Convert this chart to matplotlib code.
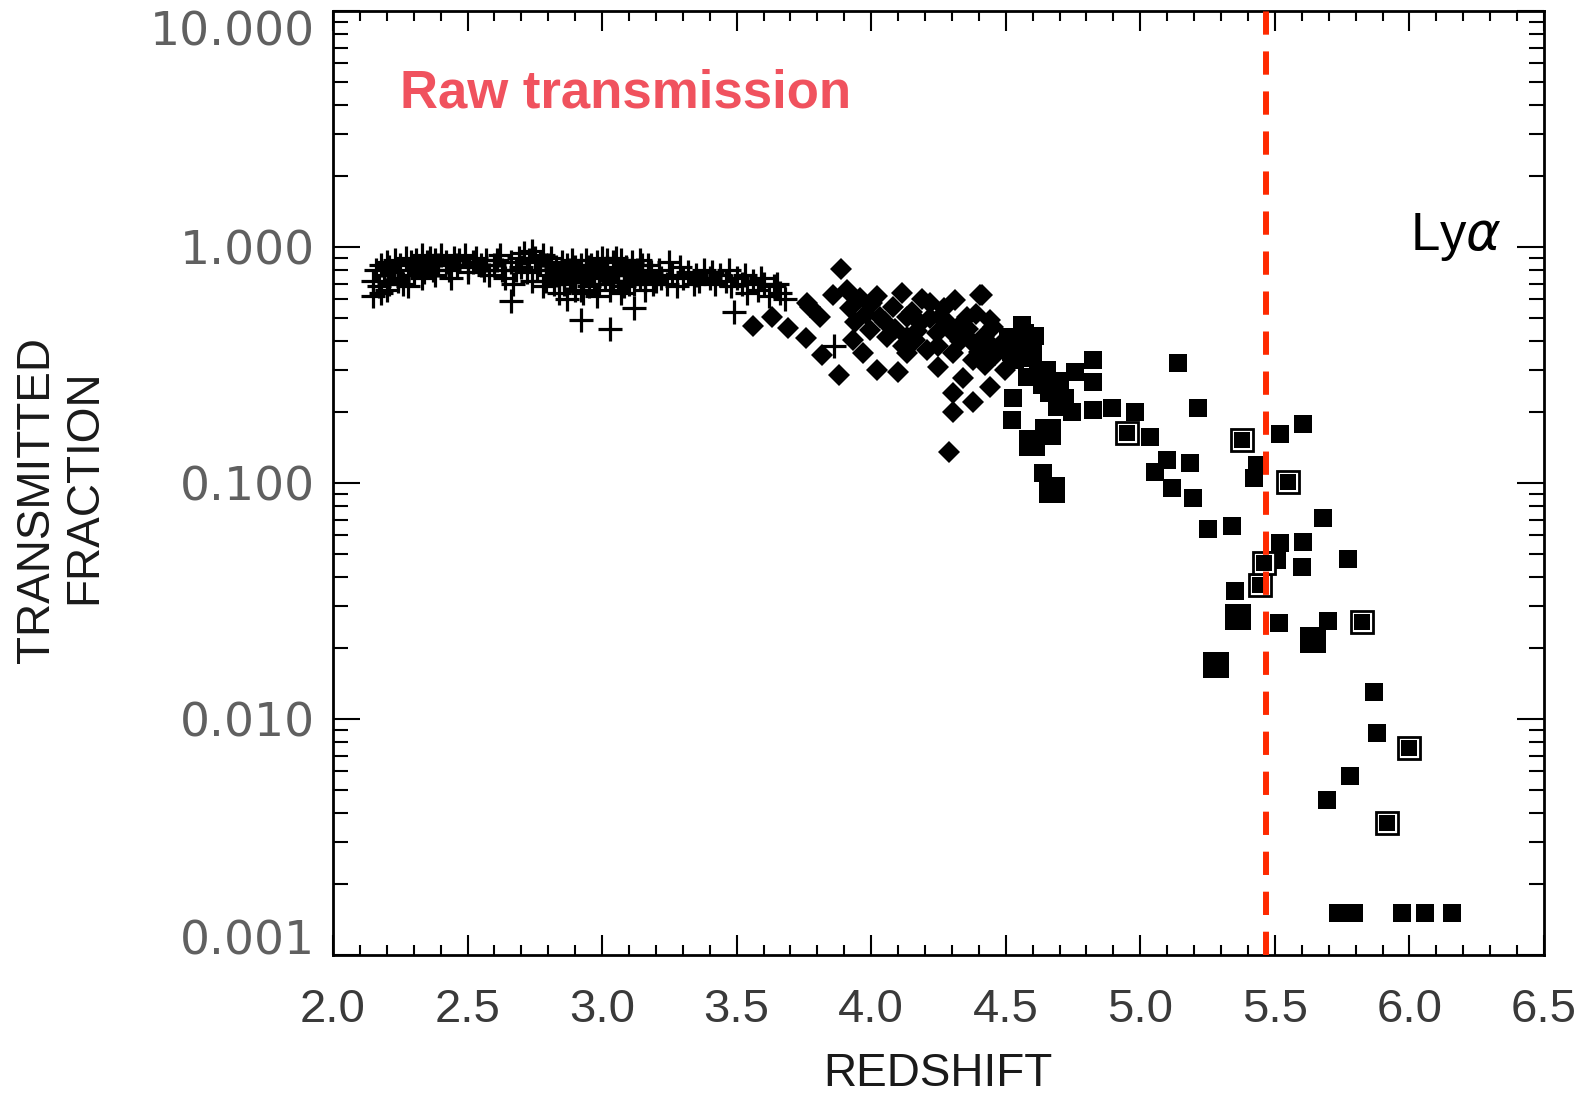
import matplotlib
matplotlib.use('Agg')
import matplotlib.pyplot as plt
from matplotlib.ticker import MultipleLocator, LogLocator, FuncFormatter, NullFormatter

plt.rcParams['mathtext.fontset'] = 'dejavusans'

# ---------------- data ----------------
plus_z = [
    2.15, 2.15, 2.16, 2.17, 2.18, 2.18, 2.19, 2.20, 2.21, 2.21,
    2.22, 2.23, 2.24, 2.25, 2.26, 2.27, 2.28, 2.29, 2.30, 2.31,
    2.32, 2.33, 2.34, 2.35, 2.36, 2.37, 2.38, 2.39, 2.40, 2.42,
    2.43, 2.45, 2.46, 2.47, 2.49, 2.50, 2.52, 2.53, 2.55, 2.56,
    2.58, 2.60, 2.61, 2.63, 2.64, 2.66, 2.67, 2.69, 2.70, 2.71,
    2.72, 2.73, 2.74, 2.75, 2.76, 2.77, 2.78, 2.79, 2.80, 2.81,
    2.82, 2.83, 2.84, 2.85, 2.86, 2.87, 2.88, 2.89, 2.90, 2.91,
    2.92, 2.93, 2.94, 2.95, 2.96, 2.97, 2.98, 2.99, 3.00, 3.01,
    3.02, 3.03, 3.04, 3.05, 3.06, 3.07, 3.08, 3.09, 3.10, 3.11,
    3.12, 3.13, 3.14, 3.15, 3.16, 3.18, 3.20, 3.22, 3.24, 3.26,
    3.28, 3.30, 3.32, 3.34, 3.36, 3.38, 3.40, 3.42, 3.44, 3.46,
    3.48, 3.50, 3.52, 3.54, 3.56, 3.58, 3.60, 3.62, 3.64, 3.66,
    3.68,
    2.20, 2.24, 2.28, 2.33, 2.38, 2.44, 2.50, 2.57, 2.62, 2.68,
    2.74, 2.78, 2.81, 2.84, 2.87, 2.90, 2.93, 2.96, 2.99, 3.02,
    3.05, 3.08, 3.11, 3.14, 3.17, 3.21, 3.25, 3.29, 3.35, 3.41,
    3.47, 3.53, 3.59, 3.65,
    2.79, 2.83, 2.86, 2.89, 2.92, 2.95, 2.98, 3.01, 3.04, 3.07,
    3.10, 3.13, 3.16,
    2.80, 2.85, 2.88, 2.94, 2.97, 3.00, 3.06, 3.09, 3.15, 3.19,
    2.92, 3.03, 3.12, 2.66, 3.49, 3.86,
]
plus_v = [
    0.72, 0.62, 0.80, 0.68, 0.84, 0.64, 0.76, 0.86, 0.70, 0.82,
    0.78, 0.88, 0.74, 0.84, 0.70, 0.90, 0.80, 0.86, 0.76, 0.88,
    0.82, 0.92, 0.78, 0.86, 0.90, 0.80, 0.88, 0.84, 0.92, 0.86,
    0.80, 0.90, 0.84, 0.88, 0.92, 0.82, 0.86, 0.90, 0.84, 0.80,
    0.76, 0.84, 0.88, 0.80, 0.74, 0.86, 0.70, 0.90, 0.82, 0.94,
    0.78, 0.88, 0.72, 0.90, 0.80, 0.86, 0.68, 0.84, 0.76, 0.90,
    0.70, 0.82, 0.64, 0.86, 0.74, 0.60, 0.80, 0.88, 0.66, 0.78,
    0.84, 0.72, 0.88, 0.68, 0.80, 0.76, 0.86, 0.70, 0.90, 0.74,
    0.82, 0.66, 0.86, 0.78, 0.72, 0.88, 0.68, 0.82, 0.76, 0.86,
    0.70, 0.80, 0.74, 0.84, 0.66, 0.78, 0.72, 0.74, 0.70, 0.76,
    0.68, 0.74, 0.78, 0.70, 0.72, 0.80, 0.74, 0.70, 0.76, 0.72,
    0.68, 0.74, 0.70, 0.64, 0.72, 0.66, 0.70, 0.62, 0.68, 0.64,
    0.60,
    0.66, 0.72, 0.68, 0.74, 0.76, 0.74, 0.78, 0.88, 0.92, 0.80,
    0.96, 0.92, 0.80, 0.74, 0.84, 0.82, 0.64, 0.84, 0.80, 0.88,
    0.90, 0.76, 0.80, 0.88, 0.84, 0.80, 0.86, 0.82, 0.76, 0.78,
    0.80, 0.76, 0.74, 0.70,
    0.72, 0.76, 0.70, 0.74, 0.66, 0.82, 0.62, 0.80, 0.72, 0.64,
    0.70, 0.78, 0.72,
    0.84, 0.78, 0.72, 0.78, 0.70, 0.80, 0.76, 0.72, 0.78, 0.70,
    0.49, 0.45, 0.55, 0.59, 0.53, 0.38,
]

diam_z = [
    3.888, 3.561, 3.761, 3.810, 3.691, 3.758, 3.817, 3.880, 3.858, 3.910,
    3.958, 4.003, 4.114, 4.081, 4.219, 4.311, 4.412, 4.022, 4.100, 4.248,
    3.970, 4.304, 4.378, 4.304, 4.289, 4.341, 4.441, 4.453, 3.996, 4.059,
    4.133, 4.181, 4.245, 4.304, 4.378, 4.207, 4.133, 4.304, 4.378, 4.453,
    4.033, 4.133, 4.256, 4.356, 3.932, 3.631, 3.773, 4.404, 4.441, 3.996,
    4.163, 4.330, 4.423, 4.479, 4.497,
    4.02, 4.05, 4.09, 4.15, 4.17, 4.22, 4.27, 4.29, 4.33, 4.36,
    4.39, 4.42, 4.46, 4.25, 4.12, 4.40, 3.94, 3.92, 3.98, 4.19,
]
diam_v = [
    0.807, 0.463, 0.579, 0.505, 0.454, 0.411, 0.348, 0.287, 0.627, 0.658,
    0.608, 0.579, 0.638, 0.557, 0.579, 0.596, 0.627, 0.301, 0.295, 0.310,
    0.356, 0.240, 0.220, 0.200, 0.135, 0.279, 0.255, 0.458, 0.445, 0.416,
    0.416, 0.477, 0.432, 0.432, 0.392, 0.366, 0.356, 0.356, 0.332, 0.377,
    0.505, 0.505, 0.505, 0.505, 0.404, 0.505, 0.557, 0.627, 0.491, 0.568,
    0.404, 0.467, 0.316, 0.385, 0.301,
    0.62, 0.48, 0.45, 0.53, 0.44, 0.50, 0.55, 0.47, 0.40, 0.45,
    0.52, 0.42, 0.35, 0.38, 0.38, 0.36, 0.48, 0.55, 0.52, 0.60,
]

sq_z = [
    4.508, 4.523, 4.527, 4.534, 4.560, 4.579, 4.598, 4.635, 4.638, 4.653,
    4.690, 4.690, 4.746, 4.757, 4.824, 4.824, 4.824, 4.895, 4.980, 5.036,
    5.055, 5.099, 5.118, 5.140, 5.185, 5.196, 5.214, 5.252, 5.341, 5.352,
    5.423, 5.434, 5.508, 5.515, 5.519, 5.519, 5.601, 5.605, 5.605, 5.679,
    5.694, 5.698, 5.772, 5.779, 5.868, 5.880, 5.735, 5.795, 5.972, 6.058,
    6.158,
    4.55, 4.60, 4.62, 4.58, 4.66, 4.70, 4.72, 4.52, 4.57, 4.61,
]
sq_v = [
    0.416, 0.185, 0.229, 0.332, 0.467, 0.392, 0.339, 0.260, 0.110, 0.301,
    0.248, 0.210, 0.200, 0.295, 0.332, 0.268, 0.204, 0.208, 0.200, 0.157,
    0.111, 0.125, 0.0953, 0.322, 0.122, 0.0863, 0.208, 0.0638, 0.0657, 0.0348,
    0.105, 0.119, 0.0472, 0.0255, 0.161, 0.0557, 0.0441, 0.178, 0.0562, 0.0711,
    0.00454, 0.0260, 0.0476, 0.00573, 0.0130, 0.00872, 0.0015, 0.0015, 0.0015, 0.0015,
    0.0015,
    0.40, 0.36, 0.30, 0.28, 0.24, 0.27, 0.23, 0.36, 0.43, 0.42,
]

sqbig_z = [4.598, 4.657, 4.672, 5.281, 5.363, 5.642]
sqbig_v = [0.148, 0.164, 0.0933, 0.0169, 0.0270, 0.0216]

open_z = [4.951, 5.378, 5.445, 5.460, 5.549, 5.824, 5.917, 5.999]
open_v = [0.163, 0.152, 0.0370, 0.0458, 0.101, 0.0258, 0.00362, 0.00754]

cut_z = 5.467

# ---------------- figure ----------------
fig = plt.figure(figsize=(15.87, 10.95), dpi=100)
ax = fig.add_axes([0.2098, 0.1279, 0.7631, 0.8621])
ax.set_yscale('log')
ax.set_xlim(2.0, 6.5)
ax.set_ylim(0.001, 10)

ax.plot(diam_z, diam_v, ls='none', marker='D', ms=11, mew=0, color='black', zorder=3)
ax.plot(plus_z, plus_v, ls='none', marker='+', ms=17, mew=2.3, color='black', zorder=3)
ax.plot(sq_z, sq_v, ls='none', marker='s', ms=13.5, mew=0, color='black', zorder=4)
ax.plot(sqbig_z, sqbig_v, ls='none', marker='s', ms=18.5, mew=0, color='black', zorder=4)
ax.plot(open_z, open_v, ls='none', marker='s', ms=16.5, mfc='white', mec='black', mew=2.0, zorder=5)
ax.plot(open_z, open_v, ls='none', marker='s', ms=11.5, mew=0, color='black', zorder=6)

ax.axvline(cut_z, color='#FF2A00', lw=4.3, dashes=(3.9, 2.8), zorder=7)

# ticks
ax.xaxis.set_major_locator(MultipleLocator(0.5))
ax.xaxis.set_minor_locator(MultipleLocator(0.1))
ax.xaxis.set_major_formatter(FuncFormatter(lambda v, p: f'{v:.1f}'))
ax.yaxis.set_major_locator(LogLocator(base=10, numticks=10))
ax.yaxis.set_minor_locator(LogLocator(base=10, subs=range(2, 10), numticks=20))
ax.yaxis.set_major_formatter(FuncFormatter(lambda v, p: f'{v:.3f}'))
ax.yaxis.set_minor_formatter(NullFormatter())

ax.tick_params(which='both', direction='in', top=True, right=True, width=1.5, color='black')
ax.tick_params(axis='x', which='major', length=14.4, pad=24, labelsize=34, labelcolor='#3a3a3a')
ax.tick_params(axis='x', which='minor', length=7.2)
ax.tick_params(axis='y', which='major', length=19.4, pad=13, labelsize=34, labelcolor='#606060')
ax.tick_params(axis='y', which='minor', length=10.8)
for lab in ax.get_xticklabels():
    lab.set_family('Liberation Sans')
for lab in ax.get_yticklabels():
    lab.set_family('DejaVu Sans')
fig.canvas.draw()
for lab in ax.get_yticklabels():
    if lab.get_text() == '10.000':
        lab.set_verticalalignment('top')
    elif lab.get_text() == '0.001':
        lab.set_verticalalignment('baseline')
for s in ax.spines.values():
    s.set_linewidth(2.0)

fig.text(938 / 1587, 1 - 1086 / 1095, 'REDSHIFT', ha='center', va='baseline',
         fontsize=33, family='Liberation Sans', color='#1a1a1a')
fig.text(37.5 / 1587, 1 - 500 / 1095, 'TRANSMITTED', ha='center', va='center',
         rotation=90, fontsize=33, family='Liberation Sans', color='#1a1a1a')
fig.text(84.5 / 1587, 1 - 487 / 1095, 'FRACTION', ha='center', va='center',
         rotation=90, fontsize=33, family='Liberation Sans', color='#1a1a1a')

fig.text(400 / 1587, 1 - 108 / 1095, 'Raw transmission', ha='left', va='baseline',
         fontsize=38, fontweight='bold', family='Liberation Sans', color='#F0525E')
fig.text(1410 / 1587, 1 - 250 / 1095, r'Ly$\alpha$', ha='left', va='baseline',
         fontsize=38, family='Liberation Sans', color='black')

fig.savefig('out.png', dpi=100)
